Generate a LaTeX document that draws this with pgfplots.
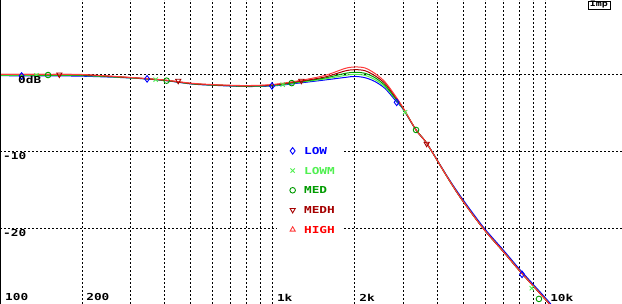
\documentclass[border=0pt]{standalone}
\usepackage{fontspec}
\usepackage{pgfplots}
\pgfplotsset{compat=1.18}
\newfontfamily\pixfont[FakeStretch=1.33]{DejaVu Sans Mono}
\newcommand\pf{\pixfont\bfseries\fontsize{9.6bp}{10bp}\selectfont}
\newcommand\pfs{\pixfont\bfseries\fontsize{7.5bp}{8bp}\selectfont}
\definecolor{cLOW}{RGB}{0,0,255}
\definecolor{cLOWM}{RGB}{80,240,80}
\definecolor{cMED}{RGB}{0,155,0}
\definecolor{cMEDH}{RGB}{165,0,0}
\definecolor{cHIGH}{RGB}{255,60,60}

\pgfplotstableread{
f dB
100 0.05
150 0.04
200 0.02
300 -0.36
400 -0.69
501 -1.11
599 -1.29
791 -1.42
1000 -1.28
1258 -0.76
1554 -0.10
1839 0.81
2001 1.00
2178 0.87
2369 0.15
2578 -0.95
2805 -2.7
3002 -4.3
3349 -7.2
3675 -9.0
4387 -13.5
4937 -16.3
5896 -20.0
6981 -23.0
8056 -25.6
10000 -29.3
11000 -31.0
}\tHIGH
\pgfplotstableread{
f dB
100 0.03
150 0.02
200 -0.01
300 -0.38
400 -0.72
501 -1.15
599 -1.32
791 -1.46
1000 -1.33
1258 -0.85
1554 -0.30
1839 0.48
2001 0.65
2178 0.51
2369 -0.15
2578 -1.15
2805 -2.85
3002 -4.35
3349 -7.2
3675 -9.0
4387 -13.5
4937 -16.3
5896 -20.0
6981 -23.0
8056 -25.6
10000 -29.3
11000 -31.0
}\tMEDH
\pgfplotstableread{
f dB
100 -0.04
150 -0.05
200 -0.08
300 -0.40
400 -0.73
501 -1.17
599 -1.34
791 -1.48
1000 -1.38
1258 -0.92
1554 -0.43
1839 0.16
2001 0.31
2178 0.17
2369 -0.40
2578 -1.40
2805 -3.0
3002 -4.4
3349 -7.2
3675 -9.0
4387 -13.5
4937 -16.3
5896 -20.0
6981 -23.0
8056 -25.6
10000 -29.3
11000 -31.0
}\tMED
\pgfplotstableread{
f dB
100 -0.08
150 -0.09
200 -0.12
300 -0.42
400 -0.74
501 -1.18
599 -1.35
791 -1.50
1000 -1.42
1258 -0.99
1554 -0.56
1839 -0.10
2001 0.05
2178 -0.10
2369 -0.65
2578 -1.60
2805 -3.1
3002 -4.45
3349 -7.2
3675 -9.0
4387 -13.5
4937 -16.3
5896 -20.0
6981 -23.0
8056 -25.6
10000 -29.3
11000 -31.0
}\tLOWM
\pgfplotstableread{
f dB
100 -0.14
150 -0.16
200 -0.20
300 -0.43
400 -0.76
501 -1.21
599 -1.38
791 -1.54
1000 -1.47
1258 -1.08
1554 -0.69
1839 -0.36
2001 -0.23
2178 -0.40
2369 -0.90
2578 -1.80
2805 -3.3
3002 -4.5
3349 -7.2
3675 -9.0
4387 -13.4
4937 -16.1
5896 -19.8
6981 -22.8
8056 -25.4
10000 -29.1
11000 -30.8
}\tLOW

\begin{document}
\begin{tikzpicture}
\begin{axis}[
  width=622bp, height=304bp, scale only axis,
  xmode=log, xmin=100, xmax=19050, ymin=-29.86, ymax=9.72,
  axis line style={draw=none},
  xtick={200,300,400,500,600,700,800,900,1000,2000,3000,4000,5000,6000,7000,8000,9000,10000},
  ytick={-20,-10,0},
  xmajorticks=false, ymajorticks=false,
  xminorticks=false, yminorticks=false,
  xmajorgrids=true, ymajorgrids=true,
  major grid style={black, line width=1bp, dash pattern=on 2bp off 2bp},
  clip mode=individual,
  legend cell align=left,
  legend image code/.code={\path (0bp,0bp) (14bp,0bp); \draw[#1] plot coordinates {(7bp,0bp)};},
  legend style={draw=none, fill=white, at={(axis cs:1036,-8.66)}, anchor=north west,
    inner xsep=8bp, inner ysep=6bp, row sep=12.7bp, column sep=4bp,
    nodes={inner sep=0pt, text height=7bp, text depth=0pt}, font=\pf},
  every axis plot/.append style={line width=1bp},
]
\addplot[cLOW, smooth, forget plot] table {\tLOW};
\addplot[cLOWM, smooth, forget plot] table {\tLOWM};
\addplot[cMED, smooth, forget plot] table {\tMED};
\addplot[cMEDH, smooth, forget plot] table {\tMEDH};
\addplot[cHIGH, smooth, forget plot] table {\tHIGH};

\addplot[cLOW, only marks, mark=diamond, mark size=3.3bp, line width=0.9bp, forget plot]
  coordinates {(120,-0.17) (346,-0.55) (993,-1.47) (2844,-3.6) (8194,-26.0)};
\addplot[cLOWM, only marks, mark=x, mark size=3bp, line width=0.9bp, forget plot]
  coordinates {(136,-0.09) (372,-0.65) (1087,-1.3) (3053,-4.9) (8891,-27.8)};
\addplot[cMED, only marks, mark=o, mark size=2.8bp, line width=0.9bp, forget plot]
  coordinates {(150,-0.05) (408,-0.78) (1173,-1.1) (3349,-7.2) (9450,-29.2)};
\addplot[cMEDH, only marks, mark=triangle, mark size=3bp, mark options={rotate=180}, line width=0.9bp, forget plot]
  coordinates {(165,0.02) (450,-0.8) (1272,-0.8) (3665,-9.0)};

\addlegendimage{cLOW, only marks, mark=diamond, mark size=3.3bp, line width=0.9bp}
\addlegendentry{\textcolor{cLOW}{LOW}}
\addlegendimage{cLOWM, only marks, mark=x, mark size=3bp, line width=0.9bp}
\addlegendentry{\textcolor{cLOWM}{LOWM}}
\addlegendimage{cMED, only marks, mark=o, mark size=2.8bp, line width=0.9bp}
\addlegendentry{\textcolor{cMED}{MED}}
\addlegendimage{cMEDH, only marks, mark=triangle, mark size=3bp, mark options={rotate=180}, line width=0.9bp}
\addlegendentry{\textcolor{cMEDH}{MEDH}}
\addlegendimage{cHIGH, only marks, mark=triangle, mark size=3bp, line width=0.9bp}
\addlegendentry{\textcolor{red}{HIGH}}

\draw[black, line width=2.5bp] (rel axis cs:0,0) -- (rel axis cs:0,1);

\node[anchor=west, inner sep=0pt, font=\pf, xshift=5bp] at (axis cs:100,-29.01) {100};
\node[anchor=west, inner sep=0pt, font=\pf, xshift=4bp] at (axis cs:200,-29.01) {200};
\node[anchor=west, inner sep=0pt, font=\pf, xshift=4bp] at (axis cs:1000,-29.01) {1k};
\node[anchor=west, inner sep=0pt, font=\pf, xshift=4.3bp] at (axis cs:2000,-29.01) {2k};
\node[anchor=west, inner sep=0pt, font=\pf, xshift=4.4bp] at (axis cs:10000,-29.01) {10k};
\node[anchor=west, inner sep=0pt, font=\pf, xshift=18bp] at (axis cs:100,-0.63) {0dB};
\node[anchor=west, inner sep=0pt, font=\pf, xshift=3bp] at (axis cs:100,-10.61) {-10};
\node[anchor=west, inner sep=0pt, font=\pf, xshift=3bp] at (axis cs:100,-20.6) {-20};
\node[draw, line width=0.8bp, inner xsep=2bp, inner ysep=0.5bp, font=\pfs] at (rel axis cs:0.963,0.9836) {Imp};
\end{axis}
\pgfresetboundingbox
\path[use as bounding box] (0,0) rectangle (622bp,304bp);
\end{tikzpicture}
\end{document}
